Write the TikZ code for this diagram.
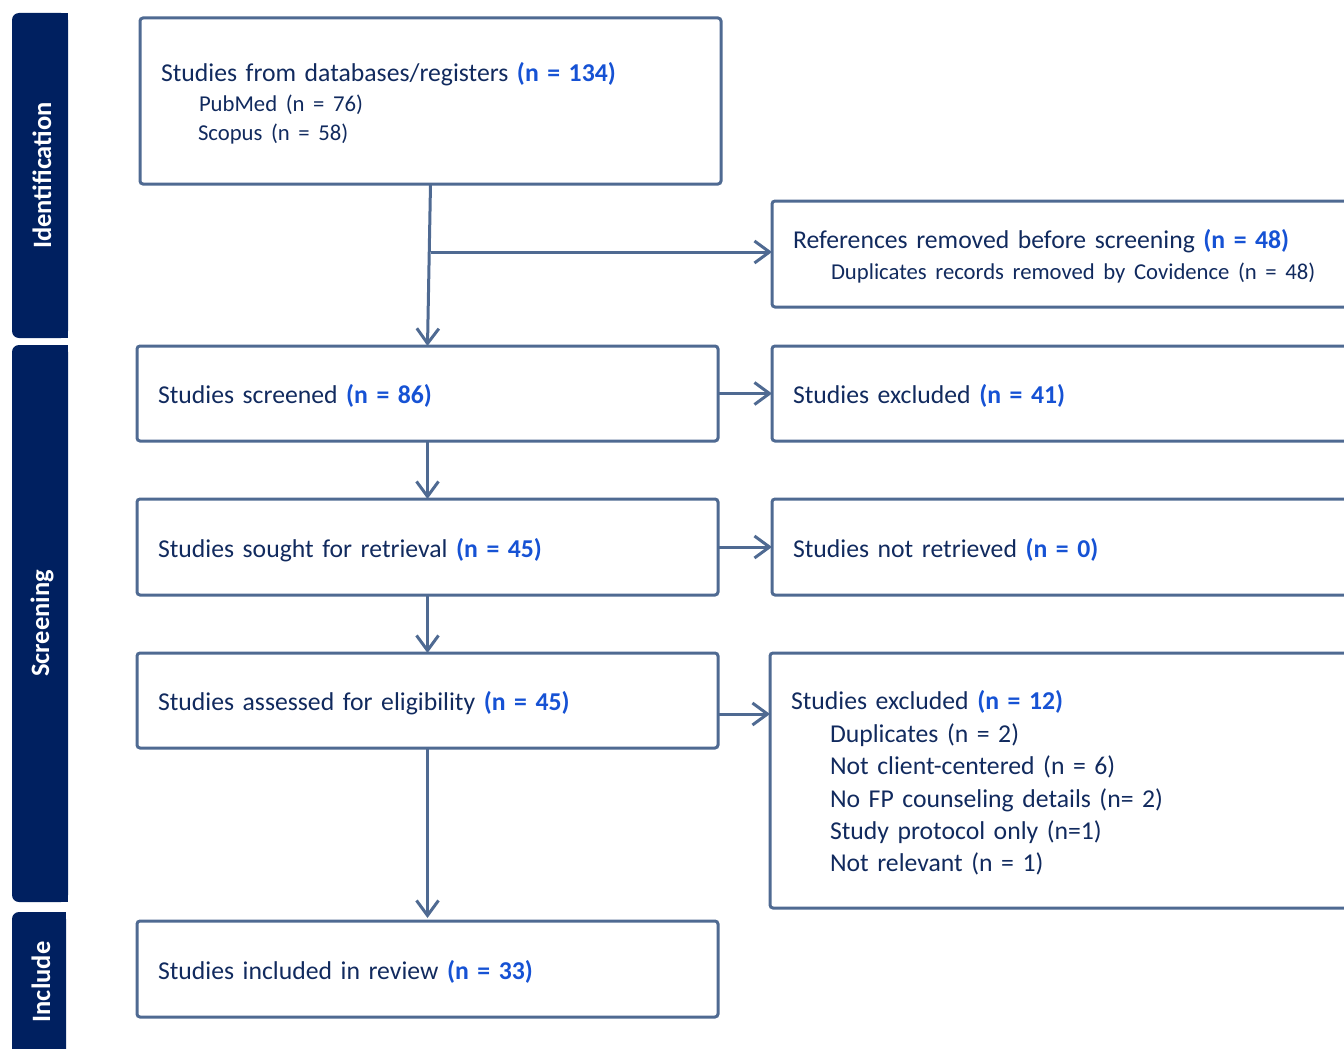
\documentclass[tikz,border=0pt]{standalone}
\usepackage{fontspec}
\setmainfont{Carlito}
\usetikzlibrary{arrows.meta}
\definecolor{navy}{HTML}{002060}
\definecolor{txt}{HTML}{112A5E}
\definecolor{nblue}{HTML}{1652D4}
\definecolor{bord}{HTML}{4F6A92}
\newcommand{\nb}[1]{\textbf{\color{nblue}#1}}
\newcommand{\subfont}{\fontsize{22.7}{29.5}\selectfont}
\begin{document}
\begin{tikzpicture}[x=1pt,y=-1pt,
  box/.style={draw=bord, line width=3pt, rounded corners=3pt, anchor=north west,
    inner xsep=21pt, inner ysep=0pt, outer sep=0pt, align=left, text=txt,
    font=\fontsize{25.7}{32.4}\selectfont,
    execute at begin node={\rule{0pt}{24.5pt}}},
  arr/.style={draw=bord, line width=3pt, -{Straight Barb[length=15pt,width=22pt]}},
  lab/.style={text=white, font=\bfseries\fontsize{26.5}{30}\selectfont, rotate=90, inner sep=0pt},
  bar/.style={fill=navy}]
\useasboundingbox (0,0) rectangle (1344,1049);
\clip (0,0) rectangle (1344,1049);

% side bars
\fill[bar, rounded corners=7pt] (12,13) rectangle (68,338);
\fill[bar] (40,13) rectangle (68,338);
\node[lab] (lid) at (42,175.5) {Identification};
\fill[bar, rounded corners=7pt] (12,345) rectangle (68,902);
\fill[bar] (40,345) rectangle (68,902);
\node[lab] (lsc) at (42,623.5) {Screening};
\fill[bar, rounded corners=7pt] (12,912) rectangle (66,1070);
\fill[bar] (40,912) rectangle (66,1070);
\node[lab] (lin) at (41,982) {Include};

% boxes
\node[box, minimum width=581pt, minimum height=166pt, text width=539pt,
  font=\fontsize{25.7}{29.5}\selectfont] (A) at (140,18)
  {Studies from databases/registers \nb{(n = 134)}\\
   \hspace*{38pt}{\subfont PubMed (n = 76)}\\
   \hspace*{37pt}{\subfont Scopus (n = 58)}};
\node[box, minimum width=640pt, minimum height=106pt, text width=598pt,
  font=\fontsize{25.7}{31}\selectfont] (R1) at (772,201)
  {References removed before screening \nb{(n = 48)}\\
   \hspace*{38pt}{\subfont Duplicates records removed by Covidence (n = 48)}};
\node[box, minimum width=581pt, minimum height=95pt, text width=539pt] (B) at (137,346)
  {Studies screened \nb{(n = 86)}};
\node[box, minimum width=640pt, minimum height=95pt, text width=598pt] (E1) at (772,346)
  {Studies excluded \nb{(n = 41)}};
\node[box, minimum width=581pt, minimum height=96pt, text width=539pt] (C) at (137,499)
  {Studies sought for retrieval \nb{(n = 45)}};
\node[box, minimum width=640pt, minimum height=96pt, text width=598pt] (E2) at (772,499)
  {Studies not retrieved \nb{(n = 0)}};
\node[box, minimum width=581pt, minimum height=95pt, text width=539pt] (D) at (137,653)
  {Studies assessed for eligibility \nb{(n = 45)}};
\node[box, minimum width=642pt, minimum height=255pt, text width=600pt] (E3) at (770,653)
  {Studies excluded \nb{(n = 12)}\\
   \hspace*{39pt}Duplicates (n = 2)\\
   \hspace*{39pt}Not client-centered (n = 6)\\
   \hspace*{39pt}No FP counseling details (n= 2)\\
   \hspace*{39pt}Study protocol only (n=1)\\
   \hspace*{39pt}Not relevant (n = 1)};
\node[box, minimum width=581pt, minimum height=96pt, text width=539pt] (F) at (137,921)
  {Studies included in review \nb{(n = 33)}};

% connectors
\draw[arr] (A.south) -- (B.north);
\coordinate (br) at (A.south |- R1.west);
\draw[arr] ([yshift=2pt]br) -- ([yshift=2pt]R1.west);
\draw[arr] (B.south) -- (C.north);
\draw[arr] (C.south) -- (D.north);
\draw[arr] (D.south) -- ([yshift=3pt]F.north);
\draw[arr] (B.east) -- (E1.west);
\draw[arr] (C.east) -- (E2.west);
\draw[arr] ([yshift=-13.5pt]D.east) -- ([yshift=-13.5pt]D.east -| E3.west);
\end{tikzpicture}
\end{document}
